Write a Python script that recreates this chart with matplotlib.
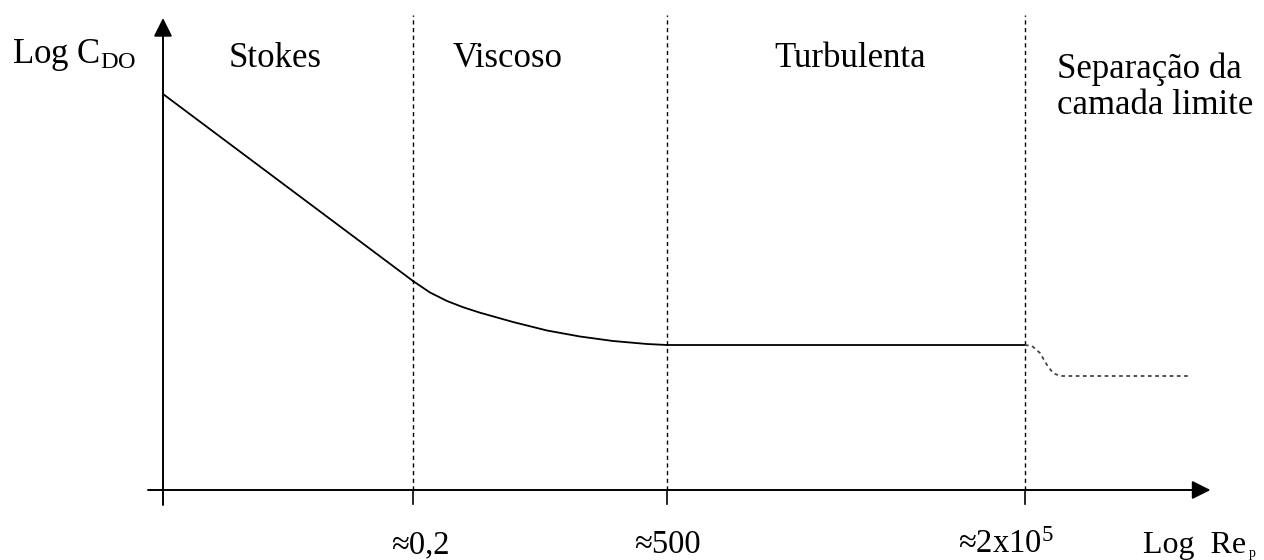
import matplotlib
matplotlib.use("Agg")
import matplotlib.pyplot as plt

plt.rcParams['font.family'] = ['Liberation Serif', 'DejaVu Serif']
plt.rcParams['mathtext.fontset'] = 'custom'
plt.rcParams['mathtext.rm'] = 'Liberation Serif'
plt.rcParams['mathtext.it'] = 'Liberation Serif:italic'

# ---- data (schematic units: x = log Re_p, y = log C_DO) ----
boundaries = [1.0, 2.016, 3.448]
boundary_labels = ["≈0,2", "≈500", r"≈2x10$^{5}$"]
region_names = ["Stokes", "Viscoso", "Turbulenta"]
region_centers = [0.448, 1.38, 2.748]

stokes_x = [0.0, 1.0]
stokes_y = [3.96, 2.09]

visc_x = [1.0, 1.068, 1.136, 1.2, 1.268, 1.4, 1.536, 1.668, 1.8, 1.936, 2.016]
visc_y = [2.09, 1.975, 1.89, 1.828, 1.773, 1.68, 1.595, 1.535, 1.49, 1.46, 1.45]

turb_x = [2.016, 3.448]
turb_y = [1.45, 1.45]

sep_x = [3.448, 3.476, 3.508, 3.536, 3.56, 3.588, 4.108]
sep_y = [1.45, 1.44, 1.37, 1.25, 1.17, 1.14, 1.14]

fig = plt.figure(figsize=(12.64, 5.6), dpi=100)
ax = fig.add_axes([0, 0, 1, 1])
ax.set_xlim(-0.652, 4.404)
ax.set_ylim(-0.70, 4.90)
ax.axis('off')

# axes with arrows
ax.annotate('', xy=(4.19, 0), xytext=(-0.06, 0),
            arrowprops=dict(arrowstyle='-|>', lw=1.4, color='black', mutation_scale=28,
                            shrinkA=0, shrinkB=0))
ax.annotate('', xy=(0, 4.72), xytext=(0, -0.15),
            arrowprops=dict(arrowstyle='-|>', lw=1.4, color='black', mutation_scale=28,
                            shrinkA=0, shrinkB=0))

# boundaries: dashed vertical lines + ticks
for b in boundaries:
    ax.plot([b, b], [0, 4.75], color='black', lw=1.0, linestyle=(0, (3, 2.5)))
    ax.plot([b, b], [0, -0.14], color='black', lw=1.2)

# curve
ax.plot(stokes_x, stokes_y, color='black', lw=1.3, solid_joinstyle='round')
ax.plot(visc_x, visc_y, color='black', lw=1.3, solid_joinstyle='round')
ax.plot(turb_x, turb_y, color='black', lw=1.3)
ax.plot(sep_x, sep_y, color='#444444', lw=1.3, linestyle=(0, (2, 2)))

fs = 25
ax.text(-0.604, 4.27, r"Log C$_{\mathrm{DO}}$", fontsize=fs, ha='left', va='baseline')
for name, cx in zip(region_names, region_centers):
    ax.text(cx, 4.23, name, fontsize=fs, ha='center', va='baseline')
ax.text(3.576, 4.12, "Separação da", fontsize=fs, ha='left', va='baseline')
ax.text(3.576, 3.76, "camada limite", fontsize=fs, ha='left', va='baseline')

label_x = [1.028, 2.018, 3.37]
for lab, lx in zip(boundary_labels, label_x):
    ax.text(lx, -0.63, lab, fontsize=23.5, ha='center', va='baseline')
ax.text(3.92, -0.63, "Log  Re", fontsize=23, ha='left', va='baseline')
ax.text(4.345, -0.665, "p", fontsize=10, ha='left', va='baseline')

fig.savefig("out.png", dpi=100)
